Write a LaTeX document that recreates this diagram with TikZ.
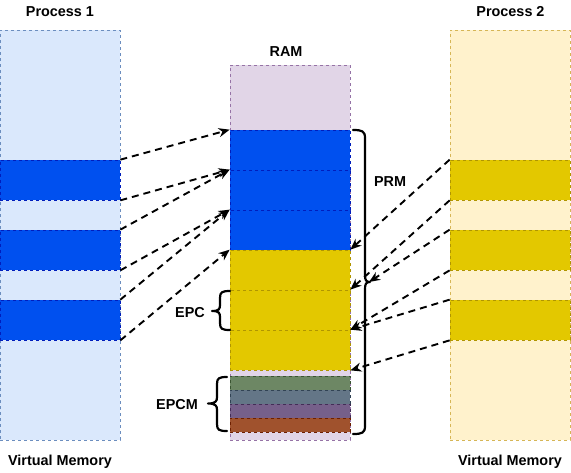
\documentclass[tikz,border=0pt]{standalone}
\usepackage{fontspec}
\setmainfont{Liberation Sans}
\usetikzlibrary{arrows.meta}
\definecolor{pafill}{HTML}{DAE8FC}
\definecolor{paline}{HTML}{6C8EBF}
\definecolor{bluefill}{HTML}{0050EF}
\definecolor{blueline}{HTML}{001DBC}
\definecolor{pbfill}{HTML}{FFF2CC}
\definecolor{pbline}{HTML}{D6B656}
\definecolor{yelfill}{HTML}{E3C800}
\definecolor{yelline}{HTML}{B09500}
\definecolor{ramfill}{HTML}{E1D5E7}
\definecolor{ramline}{HTML}{9673A6}
\definecolor{grnfill}{HTML}{6D8764}
\definecolor{grnline}{HTML}{3A5431}
\definecolor{slafill}{HTML}{647687}
\definecolor{slaline}{HTML}{314354}
\definecolor{vioFill}{HTML}{76608A}
\definecolor{violine}{HTML}{432D57}
\definecolor{brnfill}{HTML}{A0522D}
\definecolor{brnline}{HTML}{6D1F00}
\begin{document}
\begin{tikzpicture}[x=1pt,y=-1pt,
  mem/.style={rectangle, inner sep=0pt, minimum width=120pt, dash pattern=on 3pt off 3pt, line width=0.7pt},
  blk/.style={mem, minimum height=40pt},
  thin/.style={mem, minimum height=14pt},
  lbl/.style={font=\fontsize{14.4}{17}\selectfont\bfseries, inner sep=0pt, anchor=base},
  link/.style={line width=1.9pt, dash pattern=on 7pt off 5pt, -{Stealth[length=11pt,width=9pt,inset=3.5pt]}},
  brc/.style={line width=2.2pt, line join=round, line cap=round}]
\useasboundingbox (0,0) rectangle (571,472);

% columns
\node[mem, minimum height=410pt, fill=pafill, draw=paline] (p1) at (60,235) {};
\node[mem, minimum height=410pt, fill=pbfill, draw=pbline] (p2) at (510,235) {};
\node[mem, minimum height=375pt, fill=ramfill, draw=ramline] (ram) at (290,252.5) {};

% process 1 pages
\node[blk, fill=bluefill, draw=blueline] (p1a) at (60,180) {};
\node[blk, fill=bluefill, draw=blueline] (p1b) at (60,250) {};
\node[blk, fill=bluefill, draw=blueline] (p1c) at (60,320) {};

% process 2 pages
\node[blk, fill=yelfill, draw=yelline] (p2a) at (510,180) {};
\node[blk, fill=yelfill, draw=yelline] (p2b) at (510,250) {};
\node[blk, fill=yelfill, draw=yelline] (p2c) at (510,320) {};

% RAM pages
\node[blk, fill=bluefill, draw=blueline] (r1) at (290,150) {};
\node[blk, fill=bluefill, draw=blueline] (r2) at (290,190) {};
\node[blk, fill=bluefill, draw=blueline] (r3) at (290,230) {};
\node[blk, fill=yelfill, draw=yelline] (r4) at (290,270) {};
\node[blk, fill=yelfill, draw=yelline] (r5) at (290,310) {};
\node[blk, fill=yelfill, draw=yelline] (r6) at (290,350) {};
\node[thin, fill=grnfill, draw=grnline] (m1) at (290,383) {};
\node[thin, fill=slafill, draw=slaline] (m2) at (290,397) {};
\node[thin, fill=vioFill, draw=violine] (m3) at (290,411) {};
\node[thin, fill=brnfill, draw=brnline] (m4) at (290,425) {};

% labels
\node[lbl] (t1) at (60,16) {Process 1};
\node[lbl] (t2) at (510.5,16) {Process 2};
\node[lbl] (t3) at (286,56) {RAM};
\node[lbl] (t4) at (390,186.5) {PRM};
\node[lbl] (t5) at (190,317) {EPC};
\node[lbl] (t6) at (177,409.5) {EPCM};
\node[lbl] (t7) at (60,465.5) {Virtual Memory};
\node[lbl] (t8) at (510,465.5) {Virtual Memory};

% braces
\draw[brc] (353,130) .. controls (362,130) and (365,131) .. (365,138) -- (365,275)
  .. controls (365,280) and (366,282) .. (370,282)
  .. controls (366,282) and (365,284) .. (365,289) -- (365,426)
  .. controls (365,433) and (362,434) .. (353,434);
\coordinate (prmtip) at (369,282);
\draw[brc] (230,291) .. controls (222,291) and (220,292) .. (220,298) -- (220,305)
  .. controls (220,309) and (219,311) .. (212,311)
  .. controls (219,311) and (220,313) .. (220,317) -- (220,323)
  .. controls (220,329) and (222,330) .. (230,330);
\draw[brc] (227,377) .. controls (219,377) and (217,378) .. (217,384) -- (217,397)
  .. controls (217,401) and (216,403.5) .. (208,403.5)
  .. controls (216,403.5) and (217,406) .. (217,410) -- (217,424)
  .. controls (217,430) and (219,431) .. (227,431);

% process 1 mappings
\draw[link] (p1a.north east) -- (r1.north west);
\draw[link] (p1a.south east) -- (r2.north west);
\draw[link] (p1b.north east) -- (r2.north west);
\draw[link] (p1b.south east) -- (r3.north west);
\draw[link] (p1c.north east) -- (r3.north west);
\draw[link] (p1c.south east) -- (r4.north west);

% process 2 mappings
\draw[link] (p2a.north west) -- (r4.north east);
\draw[link] (p2a.south west) -- (r5.north east);
\draw[link] (p2b.north west) -- (prmtip);
\draw[link] (p2b.south west) -- (r6.north east);
\draw[link] (p2c.north west) -- (r6.north east);
\draw[link] (p2c.south west) -- (r6.south east);
\end{tikzpicture}
\end{document}
